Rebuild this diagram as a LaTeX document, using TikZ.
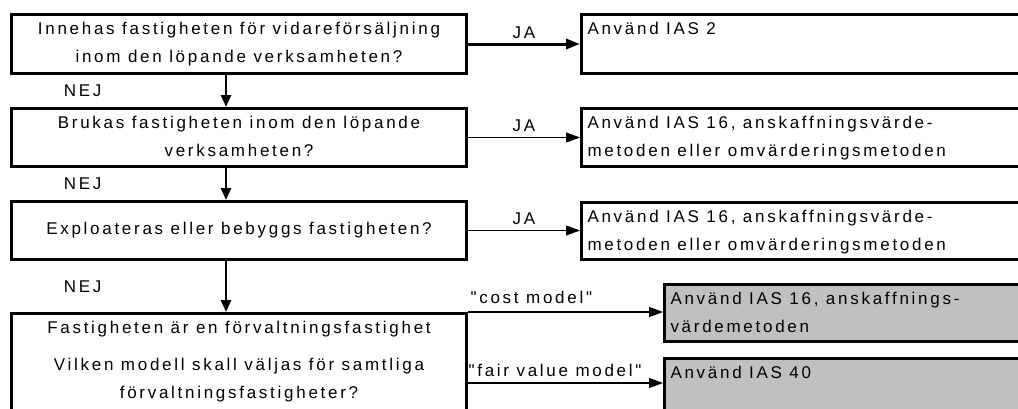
\documentclass[tikz,border=0pt]{standalone}
\usepackage{fontspec}
\setmainfont{Liberation Sans}[LetterSpace=16, Ligatures=TeXOff]
\usetikzlibrary{arrows.meta}
\definecolor{silver}{HTML}{C0C0C0}
% box text: height, width, alignment, text (first line kept at the top)
\newcommand{\boxtext}[4]{\parbox[c][#1][t]{#2}{#3\strut #4}}
\tikzset{
  question/.style={draw, line width=3pt, anchor=north west, inner sep=0pt},
  answer/.style={draw, line width=3pt, anchor=north west, inner xsep=6pt, inner ysep=0pt},
  chosen/.style={answer, fill=silver},
  yes/.style={-{Triangle[length=14pt,width=10pt]}, line width=1.2pt},
  no/.style={-{Triangle[length=12pt,width=10pt]}, line width=2.5pt},
}
\begin{document}
\begin{tikzpicture}[x=1pt, y=-1pt, font=\fontsize{17}{28}\selectfont]
        \useasboundingbox (0,0) rectangle (1018,408);
        \clip (0,0) rectangle (1018,408);
        \fill[white] (0,0) rectangle (1018,408);
        \coordinate (nej) at (226,0);
        \coordinate (fair) at (0,383);

        % Questions
        \node (q1) [question] at (10,13) {\boxtext{59pt}{455pt}{\centering}{Innehas fastigheten för vidareförsäljning\\inom den löpande verksamheten?}};
        \node (q2) [question] at (10,107) {\boxtext{58pt}{455pt}{\centering}{Brukas fastigheten inom den löpande\\verksamheten?}};
        \node (q3) [question, minimum width=455pt, minimum height=58pt] at (10,200) {Exploateras eller bebyggs fastigheten?};
        \node (q4) [question] at (10,312) {\boxtext{142pt}{455pt}{\centering}{Fastigheten är en förvaltningsfastighet\\[9pt]Vilken modell skall väljas för samtliga\\förvaltningsfastigheter?}};

        % Answers
        \node (r1) [answer] at (580,13) {\boxtext{59pt}{448pt}{\raggedright}{Använd IAS 2}};
        \node (r2) [answer] at (580,107) {\boxtext{58pt}{448pt}{\raggedright}{Använd IAS 16, anskaffningsvärde-\\metoden eller omvärderingsmetoden}};
        \node (r3) [answer] at (580,201) {\boxtext{57pt}{448pt}{\raggedright}{Använd IAS 16, anskaffningsvärde-\\metoden eller omvärderingsmetoden}};
        \node (g1) [chosen] at (663,283) {\boxtext{57pt}{370pt}{\raggedright}{Använd IAS 16, anskaffnings-\\värdemetoden}};
        \node (g2) [chosen] at (663,357) {\boxtext{60pt}{370pt}{\raggedright}{Använd IAS 40}};

        % JA arrows
        \draw[yes, line width=3pt] (q1.east) -- node[above=1pt] {JA} (q1.east -| r1.west);
        \draw[yes] (q2.east) -- node[above=2pt] {JA} (q2.east -| r2.west);
        \draw[yes] (q3.east) -- node[above=2pt] {JA} (q3.east -| r3.west);

        % NEJ arrows
        \draw[no] (q1.south -| nej) -- node[left=120pt] {NEJ} (q2.north -| nej);
        \draw[no] (q2.south -| nej) -- node[left=120pt] {NEJ} (q3.north -| nej);
        \draw[no] (q3.south -| nej) -- node[left=120pt] {NEJ} (q4.north -| nej);

        % Model choice
        \draw[yes] (q4.north east) -- node[pos=0, anchor=south west, inner xsep=2pt, yshift=4pt] {"cost model"} (q4.north east -| g1.west);
        \draw[yes] (q4.east |- fair) -- node[pos=0, anchor=south west, inner xsep=0pt, yshift=2pt] {"fair value model"} (g2.west |- fair);
    \end{tikzpicture}
\end{document}
